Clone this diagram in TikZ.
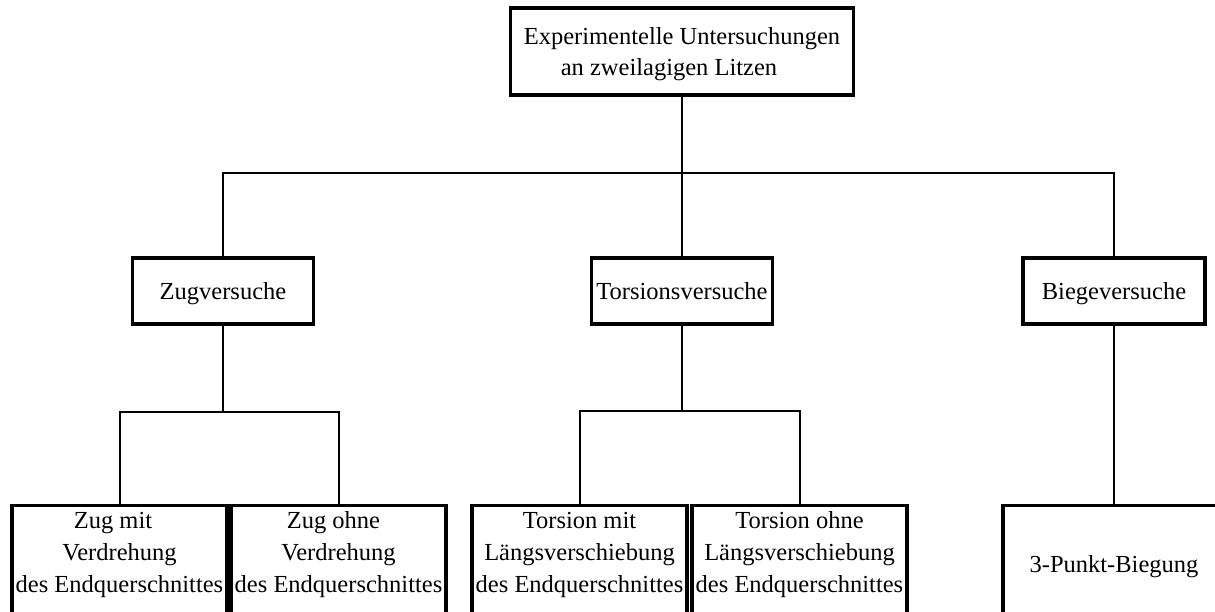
\documentclass[tikz,border=0pt]{standalone}
\usepackage{fontspec}
\setmainfont{Liberation Serif}
\begin{document}
\begin{tikzpicture}[x=1pt,y=-1pt,
  box/.style={draw=black, line width=3.2pt, rectangle, inner sep=0pt, align=center,
    font=\fontsize{24.5}{31}\selectfont},
  lbox/.style={draw=black, line width=3.2pt, rectangle, inner sep=0pt, anchor=north,
    minimum width=215pt, minimum height=150pt},
  txt/.style={inner sep=0pt, align=center, font=\fontsize{24.5}{32}\selectfont},
  conn/.style={draw=black, line width=2pt}]
\path[use as bounding box] (0,0) rectangle (1215,612);
\clip (0,0) rectangle (1215,612);
% level 0
\node[box, minimum width=343pt, minimum height=87pt] (top) at (682,51.5)
  {\rule{0pt}{23pt}Experimentelle Untersuchungen\\an zweilagigen Litzen\hspace*{26pt}};
% level 1
\node[box, minimum width=181pt, minimum height=66pt, text height=18pt, text depth=0pt] (zug) at (223,291) {Zugversuche};
\node[box, minimum width=181pt, minimum height=66pt, text height=18pt, text depth=0pt] (tor) at (682,291) {Torsionsversuche};
\node[box, minimum width=182pt, minimum height=66pt, text height=18pt, text depth=0pt] (bie) at (1114,291) {Biegeversuche};
% level 2 boxes
\node[lbox] (b1) at (119.5,504) {};
\node[lbox] (b2) at (338.5,504) {};
\node[lbox] (b3) at (579.5,504) {};
\node[lbox] (b4) at (799.5,504) {};
\node[lbox, minimum width=222pt] (b5) at (1114,504) {};
% texts of level 2
\node[txt, anchor=base] (t1) at (119.5,592) {Zug mit\hspace*{13pt}\\Verdrehung\hspace*{13pt}\\des Endquerschnittes};
\node[txt, anchor=base] (t2) at (338.5,592) {Zug ohne\hspace*{10pt}\\Verdrehung\hspace*{10pt}\\des Endquerschnittes};
\node[txt, anchor=base] (t3) at (579.5,592) {Torsion mit\\ L\"angsverschiebung\\des Endquerschnittes};
\node[txt, anchor=base] (t4) at (799.5,592) {Torsion ohne\\L\"angsverschiebung\\des Endquerschnittes};
\node[txt, anchor=base] (t5) at (1114,572) {3-Punkt-Biegung};
% connectors
\coordinate (h) at (682,173);
\coordinate (zbar) at (0,412);
\coordinate (tbar) at (0,411);
\draw[conn] (top.south) -- (h);
\draw[conn] (zug.north) |- (h) -| (bie.north);
\draw[conn] (tor.north) -- (tor.north |- h);
\draw[conn] (zug.south) -- (zug.south |- zbar);
\draw[conn] (b1.north) |- (zug.south |- zbar) -| (b2.north);
\draw[conn] (tor.south) -- (tor.south |- tbar);
\draw[conn] (b3.north) |- (tor.south |- tbar) -| (b4.north);
\draw[conn] (bie.south) -- (b5.north);
\end{tikzpicture}
\end{document}
